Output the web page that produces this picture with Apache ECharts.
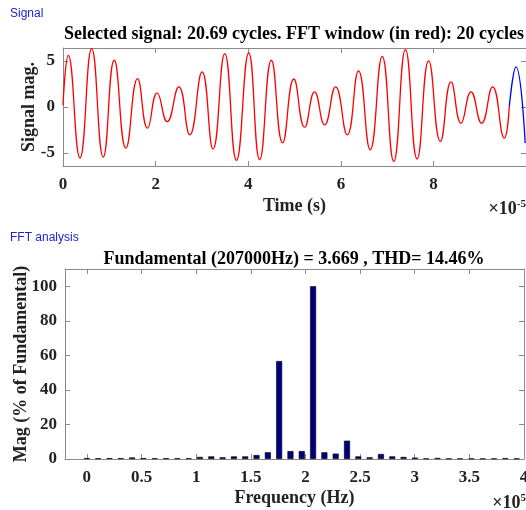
<!DOCTYPE html>
<html>
<head>
<meta charset="utf-8">
<script src="https://cdn.jsdelivr.net/npm/echarts@6/dist/echarts.min.js"></script>
<style>
  html, body { margin: 0; padding: 0; background: #fff; }
  #main { width: 526px; height: 510px; }
</style>
</head>
<body>
<div id="main"></div>
<script>
// signal: peaks / troughs, time in units of 1e-5 s
var sigTime = [0, 0.114, 0.366, 0.619, 0.869, 1.106, 1.358, 1.610, 1.825, 2.032, 2.248,
  2.500, 2.737, 3.002, 3.239, 3.491, 3.744, 4.009, 4.246, 4.498, 4.741, 4.983, 5.216,
  5.431, 5.647, 5.884, 6.136, 6.379, 6.631, 6.890, 7.140, 7.392, 7.644, 7.894, 8.147,
  8.377, 8.593, 8.808, 9.037, 9.274, 9.526, 9.634];
var sigMag = [0.2, 5.6, -5.53, 6.33, -5.43, 5.07, -4.46, 3.07, -2.30, 1.54, -1.59,
  2.19, -3.02, 3.81, -4.56, 5.79, -5.79, 5.86, -5.72, 5.07, -3.9, 3.04, -2.19,
  1.65, -1.94, 2.19, -3.02, 3.92, -4.64, 5.50, -5.9, 6.22, -5.64, 5.0, -3.74,
  2.73, -1.76, 1.65, -1.76, 2.19, -3.38, 0.03];
// part outside the FFT window (blue)
var tailTime = [9.634, 9.778, 9.978];
var tailMag = [0.03, 4.35, -3.92];

// FFT bins (Hz) and magnitude in % of fundamental
var freqHz = [0, 10350, 20700, 31050, 41400, 51750, 62100, 72450, 82800, 93150,
  103500, 113850, 124200, 134550, 144900, 155250, 165600, 175950, 186300, 196650,
  207000, 217350, 227700, 238050, 248400, 258750, 269100, 279450, 289800, 300150,
  310500, 320850, 331200, 341550, 351900, 362250, 372600, 382950, 393300];
var fftMag = [0.5, 0.4, 0.5, 0.5, 0.9, 0.5, 0.4, 0.4, 0.4, 0.4,
  1.2, 1.5, 1.0, 1.5, 1.5, 2.3, 3.9, 56.7, 4.6, 4.6,
  100, 3.9, 3.1, 10.6, 1.5, 1.0, 2.9, 1.5, 1.2, 0.8,
  0.3, 0.6, 0.3, 0.3, 0.3, 0.2, 0.3, 0.5, 0.3];

var timeTicks = [0, 2, 4, 6, 8];
var magTicks = [-5, 0, 5];
var freqTicks = [0, 0.5, 1, 1.5, 2, 2.5, 3, 3.5, 4];
var pctTicks = [0, 20, 40, 60, 80, 100];

var serif = '"Liberation Serif", "Times New Roman", serif';
var frameColor = '#8a8a8a';
var textColor = '#222';

function zip(a, b) {
  return a.map(function (v, i) { return [v, b[i]]; });
}

// one side of the box: axis line + inward ticks, labels only where asked
function side(gridIndex, position, min, max, ticks, labels, extra) {
  var ax = {
    type: 'value',
    gridIndex: gridIndex,
    position: position,
    min: min,
    max: max,
    nameMoveOverlap: false,
    splitLine: { show: false },
    axisLine: { show: true, onZero: false, lineStyle: { color: frameColor, width: 1 } },
    axisTick: { show: true, inside: true, length: 5, customValues: ticks,
      lineStyle: { color: frameColor } },
    axisLabel: { show: labels, customValues: ticks, color: textColor,
      fontFamily: serif, fontWeight: 'bold', fontSize: 17,
      margin: (position === 'bottom') ? 10 : 8 }
  };
  for (var k in extra) ax[k] = extra[k];
  return ax;
}

var nameStyle = { color: textColor, fontFamily: serif, fontWeight: 'bold', fontSize: 18 };

var chart = echarts.init(document.getElementById('main'));
chart.setOption({
  animation: false,
  backgroundColor: '#fff',
  grid: [
    { left: 63, top: 48, width: 463, height: 118, outerBoundsMode: 'none' },
    { left: 65, top: 269, width: 459, height: 190, outerBoundsMode: 'none' }
  ],
  xAxis: [
    side(0, 'bottom', 0, 9.995, timeTicks, true, {
      name: 'Time (s)', nameLocation: 'middle', nameGap: 31, nameTextStyle: nameStyle
    }),
    side(0, 'top', 0, 9.995, timeTicks, false, {}),
    side(1, 'bottom', -0.2, 4.0, freqTicks, true, {
      name: 'Frequency (Hz)', nameLocation: 'middle', nameGap: 30, nameTextStyle: nameStyle
    }),
    side(1, 'top', -0.2, 4.0, freqTicks, false, {})
  ],
  yAxis: [
    side(0, 'left', -6.4, 6.4, magTicks, true, {
      name: 'Signal mag.', nameLocation: 'middle', nameGap: 25, nameTextStyle: nameStyle
    }),
    side(0, 'right', -6.4, 6.4, magTicks, false, {}),
    side(1, 'left', 0, 110, pctTicks, true, {
      name: 'Mag (% of Fundamental)', nameLocation: 'middle', nameGap: 35, nameTextStyle: nameStyle
    }),
    side(1, 'right', 0, 110, pctTicks, false, {})
  ],
  graphic: [
    { type: 'text', x: 10, y: 14, style: { text: 'Signal', fill: '#2222cc',
      font: '12px "Liberation Sans", Arial, sans-serif', textAlign: 'left', textVerticalAlign: 'middle' } },
    { type: 'text', x: 10, y: 238, style: { text: 'FFT analysis', fill: '#2222cc',
      font: '12px "Liberation Sans", Arial, sans-serif', textAlign: 'left', textVerticalAlign: 'middle' } },
    { type: 'text', x: 294, y: 34, style: {
      text: 'Selected signal: 20.69 cycles. FFT window (in red): 20 cycles',
      fill: '#000', font: 'bold 18px ' + serif, textAlign: 'center', textVerticalAlign: 'middle' } },
    { type: 'text', x: 294, y: 259, style: {
      text: 'Fundamental (207000Hz) = 3.669 , THD= 14.46%',
      fill: '#000', font: 'bold 18px ' + serif, textAlign: 'center', textVerticalAlign: 'middle' } },
    { type: 'text', x: 526, y: 209, style: {
      text: '×10{s|-5}', fill: textColor, font: 'bold 18px ' + serif,
      textAlign: 'right', textVerticalAlign: 'middle',
      rich: { s: { fontSize: 11, fontWeight: 'bold', fontFamily: serif, verticalAlign: 'top', padding: [0, 0, 10, 0] } } } },
    { type: 'text', x: 526, y: 503, style: {
      text: '×10{s|5}', fill: textColor, font: 'bold 18px ' + serif,
      textAlign: 'right', textVerticalAlign: 'middle',
      rich: { s: { fontSize: 11, fontWeight: 'bold', fontFamily: serif, verticalAlign: 'top', padding: [0, 0, 10, 0] } } } }
  ],
  series: [
    {
      type: 'line', xAxisIndex: 0, yAxisIndex: 0,
      data: zip(sigTime, sigMag),
      smooth: 0.5, showSymbol: false,
      lineStyle: { color: '#ff0000', width: 1.3 }
    },
    {
      type: 'line', xAxisIndex: 0, yAxisIndex: 0,
      data: zip(tailTime, tailMag),
      smooth: 0.5, showSymbol: false,
      lineStyle: { color: '#0000ff', width: 1.3 }
    },
    {
      type: 'bar', xAxisIndex: 2, yAxisIndex: 2,
      data: zip(freqHz.map(function (f) { return f / 1e5; }), fftMag),
      barWidth: 6,
      itemStyle: { color: '#00007f', borderColor: '#000', borderWidth: 0.6 }
    }
  ]
});
</script>
</body>
</html>
